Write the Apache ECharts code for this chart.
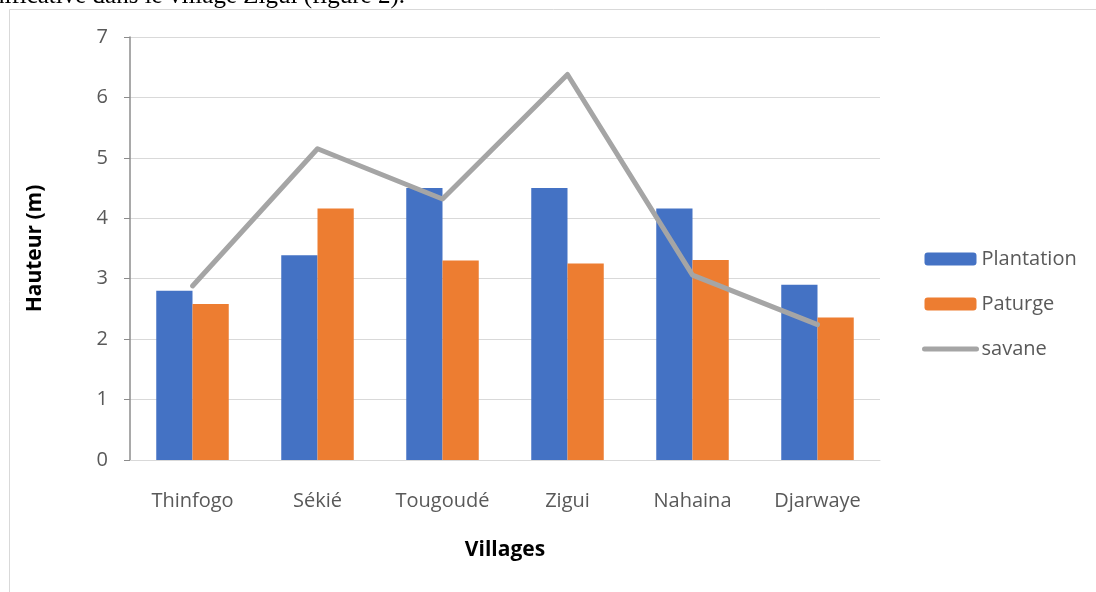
<!DOCTYPE html>
<html>
<head>
<meta charset="utf-8">
<script src="https://cdn.jsdelivr.net/npm/echarts@6/dist/echarts.min.js"></script>
<style>
  html, body { margin: 0; padding: 0; background: #fff; }
  #main { width: 1096px; height: 592px; }
</style>
</head>
<body>
<div id="main"></div>
<script>
// villages et hauteurs (m)
const villages = ['Thinfogo', 'Sékié', 'Tougoudé', 'Zigui', 'Nahaina', 'Djarwaye'];
const plantation = [2.80, 3.39, 4.50, 4.50, 4.16, 2.90];
const paturge = [2.58, 4.16, 3.30, 3.25, 3.31, 2.36];
const savane = [2.88, 5.15, 4.32, 6.38, 3.06, 2.24];

const labelFont = 'Open Sans';
const chart = echarts.init(document.getElementById('main'));

const option = {
    animation: false,
    backgroundColor: '#fff',
    graphic: [
        {
            type: 'rect',
            shape: { x: 9.5, y: 9.5, width: 1200, height: 700 },
            style: { fill: 'none', stroke: '#d9d9d9', lineWidth: 1 },
            silent: true
        },
        {
            type: 'text',
            x: 405,
            y: 9,
            style: {
                text: 'nificative dans le village Zigui (figure 2).',
                font: '25px "Liberation Serif"',
                fill: '#000',
                align: 'right',
                verticalAlign: 'bottom'
            }
        }
    ],
    grid: { left: 130, right: 216, top: 37, bottom: 132 },
    legend: {
        orient: 'vertical',
        left: 917,
        top: 244,
        itemWidth: 52,
        itemHeight: 13,
        itemGap: 25,
        textStyle: { fontFamily: labelFont, fontSize: 20, color: '#595959' },
        data: [
            'Plantation',
            'Paturge',
            { name: 'savane', itemStyle: { opacity: 0 }, lineStyle: { width: 5, cap: 'round' } }
        ]
    },
    xAxis: {
        type: 'category',
        data: villages,
        name: 'Villages',
        nameLocation: 'middle',
        nameGap: 80,
        nameTextStyle: { fontFamily: labelFont, fontSize: 21, fontWeight: 'bold', color: '#000' },
        axisLine: { lineStyle: { color: '#d9d9d9', width: 1 } },
        axisTick: { show: false },
        axisLabel: { fontFamily: labelFont, fontSize: 20, color: '#595959', margin: 31 }
    },
    yAxis: {
        type: 'value',
        min: 0,
        max: 7,
        interval: 1,
        name: 'Hauteur (m)',
        nameLocation: 'middle',
        nameGap: 84,
        nameTextStyle: { fontFamily: labelFont, fontSize: 21, fontWeight: 'bold', color: '#000' },
        axisLine: { show: true, lineStyle: { color: '#8c8c8c', width: 1.5 } },
        axisTick: { show: true, length: 6, lineStyle: { color: '#8c8c8c' } },
        axisLabel: { fontFamily: labelFont, fontSize: 20, color: '#595959', margin: 22 },
        splitLine: { lineStyle: { color: '#d9d9d9', width: 1 } }
    },
    series: [
        {
            name: 'Plantation',
            type: 'bar',
            data: plantation,
            barGap: '0%',
            barCategoryGap: '42%',
            itemStyle: { color: '#4472c4' }
        },
        {
            name: 'Paturge',
            type: 'bar',
            data: paturge,
            itemStyle: { color: '#ed7d31' }
        },
        {
            name: 'savane',
            type: 'line',
            data: savane,
            symbol: 'none',
            z: 5,
            itemStyle: { color: '#a5a5a5' },
            lineStyle: { color: '#a5a5a5', width: 5, cap: 'round', join: 'round' }
        }
    ]
};

chart.setOption(option);
</script>
</body>
</html>
